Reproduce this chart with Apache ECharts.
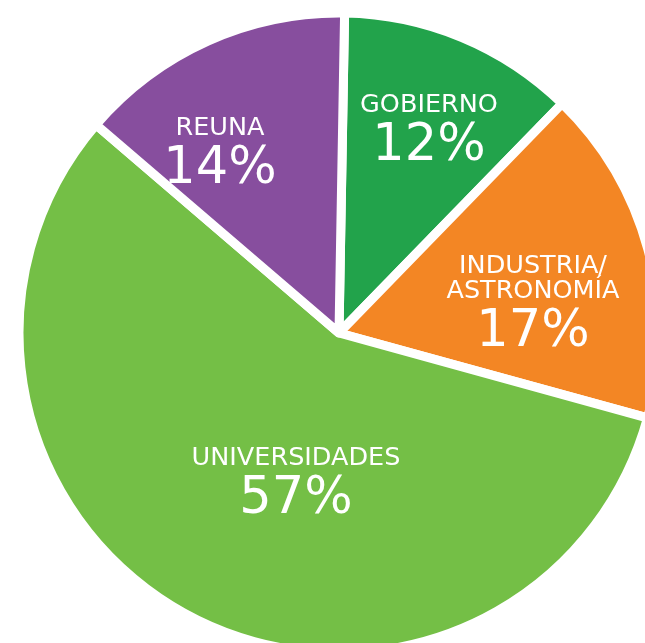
<!DOCTYPE html>
<html>
<head>
<meta charset="utf-8">
<script src="https://cdn.jsdelivr.net/npm/echarts@6/dist/echarts.min.js"></script>
<style>
html,body{margin:0;padding:0;background:#fff;}
#chart{width:645px;height:643px;}
</style>
</head>
<body>
<div id="chart"></div>
<script>
const categories = ["GOBIERNO", "INDUSTRIA/\nASTRONOMÍA", "UNIVERSIDADES", "REUNA"];
const shares = [12, 17, 57, 14];
const sliceColors = ["#22a34b", "#f38624", "#74bf46", "#874e9e"];

// label anchor points (pixel layout), keyed by category order
const labelAnchors = [[429, 134], [533, 308], [296, 487], [220, 157]];

const chart = echarts.init(document.getElementById('chart'), null, {renderer: 'canvas'});
chart.setOption({
  backgroundColor: '#ffffff',
  animation: false,
  series: [{
    type: 'pie',
    center: [339, 333],
    radius: [0, 320],
    startAngle: 89,
    clockwise: true,
    avoidLabelOverlap: false,
    emphasis: {disabled: true},
    itemStyle: {borderColor: '#ffffff', borderWidth: 9},
    label: {
      show: true,
      position: 'inside',
      color: '#ffffff',
      formatter: function (p) {
        const lines = p.name.split('\n').map(s => '{n|' + s + '}');
        return lines.join('\n') + '\n{p|' + p.value + '%}';
      },
      rich: {
        n: {fontFamily: 'DejaVu Sans', fontSize: 25.5, lineHeight: 25, color: '#ffffff', align: 'center'},
        p: {fontFamily: 'DejaVu Sans', fontSize: 51, lineHeight: 58, color: '#ffffff', align: 'center'}
      }
    },
    labelLine: {show: false},
    labelLayout: function (params) {
      const a = labelAnchors[params.dataIndex];
      return {x: a[0], y: a[1], align: 'center', verticalAlign: 'middle'};
    },
    data: categories.map((c, i) => ({name: c, value: shares[i], itemStyle: {color: sliceColors[i]}}))
  }]
});
</script>
</body>
</html>
